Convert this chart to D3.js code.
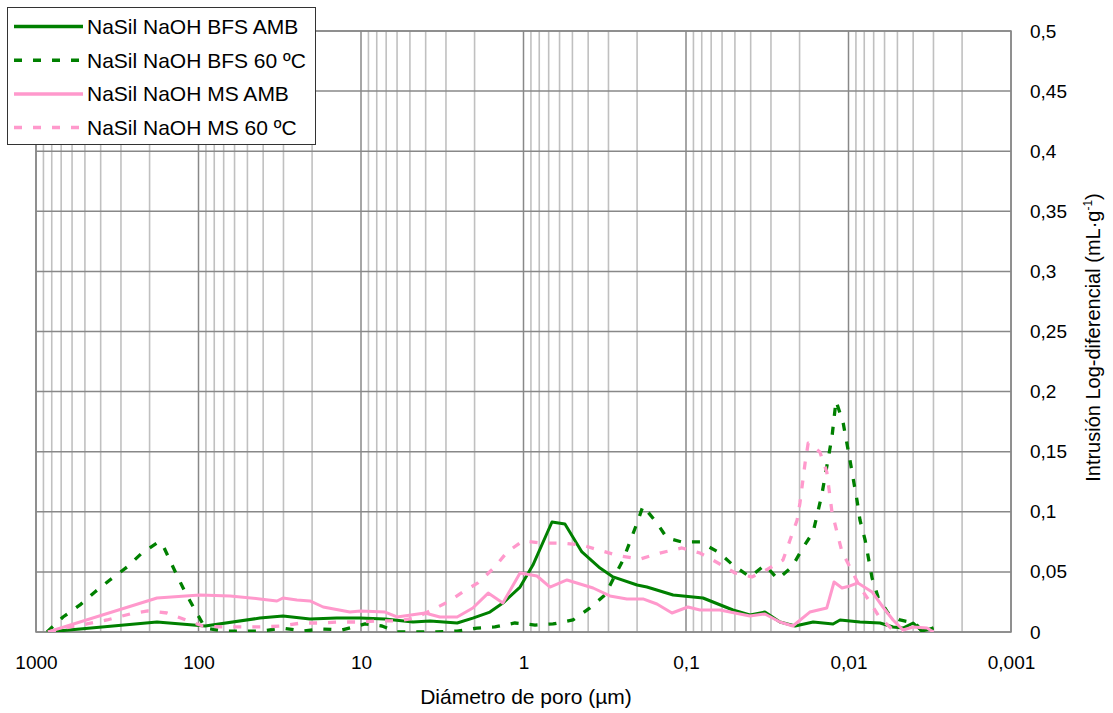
<!DOCTYPE html>
<html>
<head>
<meta charset="utf-8">
<script src="https://cdn.jsdelivr.net/npm/d3@7/dist/d3.min.js"></script>
<style>
  body { margin: 0; background: #fff; }
  svg { display: block; font-family: "Liberation Sans", Arial, sans-serif; }
</style>
</head>
<body>
<svg width="1113" height="713"></svg>
<script>
// pore diameter (µm) and log-differential intrusion (mL/g)
const dBfsAmb = [855, 180, 91, 41.9, 30.2, 20.6, 14.1, 10.1, 7.11, 4.79, 3.76, 2.56, 2.05, 1.61, 1.34, 1.05, 0.875, 0.668, 0.556, 0.437, 0.338, 0.281, 0.2, 0.174, 0.12, 0.0786, 0.0514, 0.0404, 0.0327, 0.0264, 0.0213, 0.0165, 0.01245, 0.01127, 0.0085, 0.0064, 0.00532, 0.00462, 0.004, 0.00353, 0.003]
const vBfsAmb = [0, 0.0083, 0.005, 0.0116, 0.0133, 0.0108, 0.0116, 0.0116, 0.0108, 0.0083, 0.0092, 0.0075, 0.0116, 0.0166, 0.0241, 0.0374, 0.0557, 0.0915, 0.0899, 0.0666, 0.0532, 0.0458, 0.0391, 0.0374, 0.0308, 0.0283, 0.0183, 0.0141, 0.0166, 0.0083, 0.005, 0.0083, 0.0067, 0.01, 0.0083, 0.0075, 0.0042, 0.0033, 0.0075, 0.0008, 0.0033]

const dBfs60 = [855, 682, 536, 434, 351, 275, 223, 180, 168, 136, 121, 105, 91, 70.6, 53.2, 40.1, 30.6, 22.8, 17.4, 13.1, 9.44, 7.43, 6.0, 4.52, 3.41, 2.56, 1.93, 1.5, 1.13, 0.849, 0.658, 0.496, 0.39, 0.315, 0.244, 0.2, 0.184, 0.151, 0.131, 0.106, 0.082, 0.0635, 0.0514, 0.0404, 0.0327, 0.0272, 0.0223, 0.0191, 0.0165, 0.0146, 0.01264, 0.01194, 0.01081, 0.0098, 0.00887, 0.0085, 0.0079, 0.00716, 0.00658, 0.00571, 0.00482, 0.0039, 0.00353, 0.003]
const vBfs60 = [0, 0.0125, 0.0225, 0.0333, 0.0433, 0.0541, 0.0657, 0.074, 0.074, 0.0474, 0.0333, 0.0183, 0.0033, 0.0008, 0.0008, 0.0008, 0.0033, 0.0008, 0.0025, 0.0017, 0.0067, 0.005, 0, 0, 0, 0.0008, 0.0033, 0.0042, 0.0075, 0.0058, 0.0067, 0.01, 0.02, 0.0308, 0.0599, 0.0907, 0.1048, 0.0907, 0.0782, 0.0749, 0.0749, 0.0666, 0.0557, 0.0458, 0.0557, 0.0441, 0.0541, 0.0699, 0.0832, 0.114, 0.1622, 0.1922, 0.1747, 0.1431, 0.1098, 0.0932, 0.0765, 0.0449, 0.0291, 0.0158, 0.01, 0.0075, 0.0008, 0.0033]

const dMsAmb = [844, 180, 98, 64, 41.9, 32.9, 30.2, 24.8, 20.6, 17.1, 11.7, 10.1, 7.11, 6.0, 4.04, 3.27, 2.56, 2.05, 1.65, 1.34, 1.05, 0.826, 0.687, 0.54, 0.373, 0.294, 0.231, 0.184, 0.151, 0.122, 0.0973, 0.082, 0.0618, 0.0404, 0.0327, 0.0264, 0.022, 0.0173, 0.0136, 0.01227, 0.01096, 0.0098, 0.00875, 0.00716, 0.00614, 0.00532, 0.00462, 0.004, 0.00329, 0.003]
const vMsAmb = [0, 0.0283, 0.0308, 0.03, 0.0275, 0.0258, 0.0283, 0.0266, 0.0258, 0.0208, 0.0166, 0.0175, 0.0166, 0.0125, 0.0158, 0.0125, 0.0125, 0.02, 0.0324, 0.0241, 0.0491, 0.0466, 0.0374, 0.0433, 0.0366, 0.03, 0.0275, 0.0275, 0.0233, 0.0158, 0.0208, 0.0183, 0.0183, 0.0133, 0.015, 0.0083, 0.005, 0.0166, 0.02, 0.0416, 0.0366, 0.0383, 0.0408, 0.0333, 0.0208, 0.01, 0.0017, 0.0042, 0.0033, 0]

const dMs60 = [844, 618, 486, 366, 264, 205, 156, 124, 94, 70.6, 53.2, 40.1, 31.5, 23.1, 17.9, 13.5, 10.1, 7.85, 5.92, 4.66, 3.66, 2.92, 2.36, 1.91, 1.5, 1.26, 1.01, 0.769, 0.58, 0.437, 0.329, 0.255, 0.192, 0.145, 0.106, 0.082, 0.0635, 0.0499, 0.0393, 0.0313, 0.0253, 0.0229, 0.0207, 0.0199, 0.0185, 0.0177, 0.015, 0.0136, 0.01264, 0.01178, 0.01096, 0.0098, 0.0085, 0.00738, 0.0064, 0.00532, 0.00462]
const vMs60 = [0, 0.0042, 0.0067, 0.01, 0.015, 0.0175, 0.0158, 0.0108, 0.005, 0.0042, 0.0042, 0.0042, 0.005, 0.0075, 0.0075, 0.0083, 0.0083, 0.0092, 0.0092, 0.0116, 0.0183, 0.025, 0.0333, 0.0408, 0.0541, 0.0666, 0.0757, 0.074, 0.074, 0.0724, 0.0674, 0.0632, 0.0607, 0.0657, 0.0699, 0.0657, 0.0574, 0.0491, 0.0458, 0.0524, 0.0599, 0.0765, 0.0932, 0.1073, 0.1406, 0.1572, 0.1498, 0.1331, 0.0998, 0.0832, 0.0666, 0.0541, 0.0374, 0.025, 0.0116, 0.0017, 0.0008]

const seriesNames = ['NaSil NaOH BFS AMB', 'NaSil NaOH BFS 60 ºC', 'NaSil NaOH MS AMB', 'NaSil NaOH MS 60 ºC']
const xTicks = [1000, 100, 10, 1, 0.1, 0.01, 0.001]
const yTicks = [0, 0.05, 0.1, 0.15, 0.2, 0.25, 0.3, 0.35, 0.4, 0.45, 0.5]

const green = '#008000', pink = '#ff99cc'
const series = [
    { name: seriesNames[0], d: dBfsAmb, v: vBfsAmb, color: green, dash: null },
    { name: seriesNames[1], d: dBfs60, v: vBfs60, color: green, dash: '8,11' },
    { name: seriesNames[2], d: dMsAmb, v: vMsAmb, color: pink, dash: null },
    { name: seriesNames[3], d: dMs60, v: vMs60, color: pink, dash: '8,11' }
]

const svg = d3.select('svg')
const pLeft = 36, pRight = 1011, pTop = 31, pBottom = 632

const x = d3.scaleLog().domain([1000, 0.001]).range([pLeft, pRight])
const y = d3.scaleLinear().domain([0, 0.5]).range([pBottom, pTop])

const es = d3.formatLocale({ decimal: ',', thousands: '.', grouping: [3], currency: ['', '€'] })
const fmt = es.format('~g')

// vertical grid: minor then major (decades)
const allX = x.ticks()
const isDecade = d => Math.abs(Math.log10(d) - Math.round(Math.log10(d))) < 1e-9
svg.append('g')
    .selectAll('line')
    .data(allX.filter(d => !isDecade(d)))
    .enter().append('line')
    .attr('x1', d => x(d)).attr('x2', d => x(d))
    .attr('y1', pTop).attr('y2', pBottom)
    .attr('stroke', '#c0c0c0').attr('stroke-width', 1.6)

svg.append('g')
    .selectAll('line')
    .data(xTicks)
    .enter().append('line')
    .attr('x1', d => x(d)).attr('x2', d => x(d))
    .attr('y1', pTop).attr('y2', pBottom)
    .attr('stroke', '#888').attr('stroke-width', 1.5)

svg.append('g')
    .selectAll('line')
    .data(yTicks)
    .enter().append('line')
    .attr('x1', pLeft).attr('x2', pRight)
    .attr('y1', d => y(d)).attr('y2', d => y(d))
    .attr('stroke', '#888').attr('stroke-width', 1.5)

svg.append('rect')
    .attr('x', pLeft).attr('y', pTop)
    .attr('width', pRight - pLeft).attr('height', pBottom - pTop)
    .attr('fill', 'none').attr('stroke', '#888').attr('stroke-width', 1.5)

// lines
svg.append('clipPath').attr('id', 'clip')
    .append('rect').attr('x', pLeft).attr('y', pTop - 2)
    .attr('width', pRight - pLeft).attr('height', pBottom - pTop + 2)

const line = d3.line().x(p => x(p[0])).y(p => y(p[1]))

svg.append('g').attr('clip-path', 'url(#clip)')
    .selectAll('path')
    .data(series)
    .enter().append('path')
    .attr('d', s => line(s.d.map((d, i) => [d, s.v[i]])))
    .attr('fill', 'none')
    .attr('stroke', s => s.color)
    .attr('stroke-width', s => s.dash ? 3.3 : 3)
    .attr('stroke-dasharray', s => s.dash)
    .attr('stroke-linejoin', 'round')

// axes
const xAxis = svg.append('g')
    .attr('transform', `translate(0,${pBottom})`)
    .call(d3.axisBottom(x).tickValues(xTicks).tickFormat(fmt).tickSize(0).tickPadding(24))
xAxis.select('.domain').remove()
xAxis.selectAll('text').attr('font-size', 19).attr('font-family', 'Liberation Sans, Arial, sans-serif').attr('fill', '#000')

const yAxis = svg.append('g')
    .attr('transform', `translate(${pRight},0)`)
    .call(d3.axisRight(y).tickValues(yTicks).tickFormat(fmt).tickSize(0).tickPadding(19))
yAxis.select('.domain').remove()
yAxis.selectAll('text').attr('font-size', 19).attr('font-family', 'Liberation Sans, Arial, sans-serif').attr('fill', '#000')

svg.append('text')
    .attr('x', 526).attr('y', 704)
    .attr('text-anchor', 'middle').attr('font-size', 21)
    .text('Diámetro de poro (µm)')

const yt = svg.append('text')
    .attr('transform', `translate(1100,${(pTop + pBottom) / 2 + 6}) rotate(-90)`)
    .attr('text-anchor', 'middle').attr('font-size', 20)
yt.append('tspan').text('Intrusión Log-diferencial (mL·g')
yt.append('tspan').attr('font-size', 12).attr('dy', -8).text('-1')
yt.append('tspan').attr('dy', 8).text(')')

// legend
const lg = svg.append('g')
lg.append('rect')
    .attr('x', 7.5).attr('y', 7.5).attr('width', 308).attr('height', 137)
    .attr('fill', '#fff').attr('stroke', '#333').attr('stroke-width', 1)

const item = lg.selectAll('g.item')
    .data(series)
    .enter().append('g')
    .attr('class', 'item')
    .attr('transform', (s, i) => `translate(0,${26.5 + i * 33.7})`)
item.append('line')
    .attr('x1', 14).attr('x2', 83)
    .attr('stroke', s => s.color).attr('stroke-width', 3.5)
    .attr('stroke-dasharray', s => s.dash)
item.append('text')
    .attr('x', 87).attr('y', 7.5).attr('font-size', 21)
    .text(s => s.name)
</script>
</body>
</html>
